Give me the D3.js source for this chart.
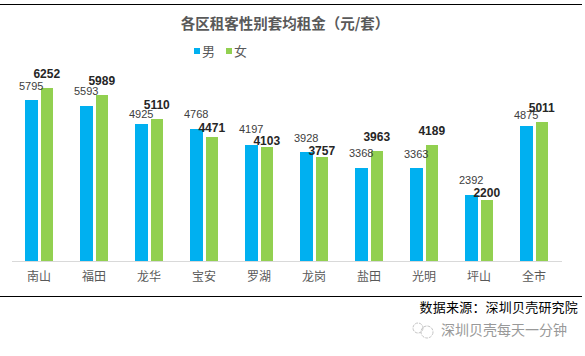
<!DOCTYPE html>
<html lang="zh">
<head>
<meta charset="UTF-8">
<title>各区租客性别套均租金</title>
<script src="https://d3js.org/d3.v7.min.js"></script>
<style>
  html, body { margin: 0; padding: 0; background: #fff; }
  svg { display: block; }
  text { font-family: "Noto Sans CJK SC", "Liberation Sans", sans-serif; }
  .num { font-family: "Liberation Sans", Arial, sans-serif; }
</style>
</head>
<body>
<div id="chart"></div>
<script>
var districts = ["南山", "福田", "龙华", "宝安", "罗湖", "龙岗", "盐田", "光明", "坪山", "全市"];
var male = [5795, 5593, 4925, 4768, 4197, 3928, 3368, 3363, 2392, 4875];
var female = [6252, 5989, 5110, 4471, 4103, 3757, 3963, 4189, 2200, 5011];
var seriesNames = ["男", "女"];

var width = 585, height = 356;
var colors = ["#00B0F0", "#92D050"];

var svg = d3.select("#chart").append("svg")
    .attr("width", width)
    .attr("height", height);

// frame lines above and below the chart
[4.5, 296.5].forEach(function(y) {
  svg.append("line")
      .attr("x1", 0).attr("x2", 582)
      .attr("y1", y).attr("y2", y)
      .attr("stroke", "#000").attr("stroke-width", 1);
});

var x = d3.scaleBand().domain(districts).range([11.5, 561.5]);
var y = d3.scaleLinear().domain([0, 6252]).range([261, 87.5]);

var barW = 12.5, gap = 3;

var xAxis = svg.append("g")
    .attr("transform", "translate(0,261)")
    .call(d3.axisBottom(x).tickSize(0).tickPadding(11));
xAxis.select(".domain").attr("stroke", "#D9D9D9").attr("stroke-width", 1);
xAxis.selectAll("text")
    .attr("fill", "#595959")
    .style("font-size", "12px")
    .style("font-family", "'Noto Sans CJK SC', sans-serif");

// some labels were dragged closer to the bar in the original
var liftMale = [14, 15, 10, 15, 15, 14, 14, 14, 14, 11];
var liftFemale = [14, 14, 14, 9, 6, 6, 14, 14, 7, 14];

function barX(d, s) {
  return x(d) + x.bandwidth() / 2 + (s === 0 ? -gap / 2 - barW : gap / 2);
}

[male, female].forEach(function(values, s) {
  svg.append("g").selectAll("rect")
      .data(values)
      .join("rect")
      .attr("x", function(d, i) { return barX(districts[i], s); })
      .attr("y", function(d) { return y(d); })
      .attr("width", barW)
      .attr("height", function(d) { return y(0) - y(d); })
      .attr("fill", colors[s])
      .attr("shape-rendering", "crispEdges");
});

// labels go on top of all the bars
[male, female].forEach(function(values, s) {
  var lift = s === 0 ? liftMale : liftFemale;
  svg.append("g").selectAll("text")
      .data(values)
      .join("text")
      .attr("class", "num")
      .attr("x", function(d, i) { return barX(districts[i], s) + barW / 2; })
      .attr("y", function(d, i) { return y(d) - lift[i]; })
      .attr("dy", "0.35em")
      .attr("text-anchor", "middle")
      .attr("fill", s === 0 ? "#404040" : "#262626")
      .attr("font-size", s === 0 ? 11 : 12)
      .attr("font-weight", s === 0 ? "normal" : "bold")
      .text(function(d) { return d; });
});

svg.append("text")
    .attr("x", 285).attr("y", 29)
    .attr("text-anchor", "middle")
    .attr("fill", "#595959")
    .attr("font-size", 14.5)
    .attr("font-weight", "bold")
    .text("各区租客性别套均租金（元/套）");

// legend
var legendX = [194, 226];
seriesNames.forEach(function(name, i) {
  svg.append("rect")
      .attr("x", legendX[i]).attr("y", 48)
      .attr("width", 6).attr("height", 6)
      .attr("fill", colors[i]);
  svg.append("text")
      .attr("x", legendX[i] + 8).attr("y", 56)
      .attr("fill", "#595959")
      .attr("font-size", 13)
      .text(name);
});

svg.append("text")
    .attr("x", 578).attr("y", 312)
    .attr("text-anchor", "end")
    .attr("fill", "#000")
    .attr("font-size", 13)
    .style("letter-spacing", "0.2px")
    .text("数据来源：深圳贝壳研究院");

// watermark
var mark = svg.append("g").attr("fill", "none").attr("stroke", "#c4c4c4").attr("stroke-width", 1).attr("stroke-dasharray", "3 1");
mark.append("circle").attr("cx", 418).attr("cy", 328).attr("r", 5);
mark.append("circle").attr("cx", 427).attr("cy", 332).attr("r", 6);

svg.append("text")
    .attr("x", 441).attr("y", 335)
    .attr("fill", "#999")
    .attr("font-size", 14)
    .text("深圳贝壳每天一分钟");
</script>
</body>
</html>
